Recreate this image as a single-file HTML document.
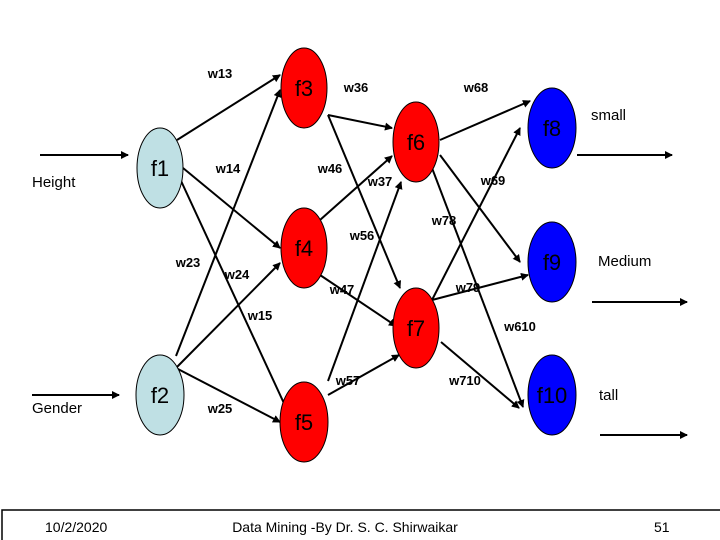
<!DOCTYPE html>
<html><head><meta charset="utf-8"><style>
html,body{margin:0;padding:0;background:#fff;}
svg{display:block;font-family:"Liberation Sans",sans-serif;}
.l{font-size:13px;font-weight:bold;}
.n{font-size:22px;}
</style></head><body>
<svg width="720" height="540" viewBox="0 0 720 540" xmlns="http://www.w3.org/2000/svg">
<defs><marker id="a" markerWidth="8" markerHeight="8" refX="7" refY="4" orient="auto" markerUnits="userSpaceOnUse"><path d="M0,0 L8,4 L0,8 z" fill="#000"/></marker></defs>
<g stroke="#000" stroke-width="2" marker-end="url(#a)" fill="none">
<line x1="40" y1="155" x2="128" y2="155"/>
<line x1="32" y1="395" x2="119" y2="395"/>
<line x1="577" y1="155" x2="672" y2="155"/>
<line x1="592" y1="302" x2="687" y2="302"/>
<line x1="600" y1="435" x2="687" y2="435"/>
<line x1="177" y1="140" x2="280" y2="75"/>
<line x1="183" y1="168" x2="280" y2="248"/>
<line x1="176" y1="170" x2="288" y2="412"/>
<line x1="176" y1="356" x2="280" y2="90"/>
<line x1="176" y1="368" x2="280" y2="263"/>
<line x1="176" y1="368" x2="280" y2="422"/>
<line x1="328" y1="115" x2="392" y2="128"/>
<line x1="328" y1="115" x2="400" y2="288"/>
<line x1="320" y1="220" x2="392" y2="156"/>
<line x1="320" y1="275" x2="396" y2="326"/>
<line x1="328" y1="381" x2="401" y2="182"/>
<line x1="328" y1="395" x2="399" y2="355"/>
<line x1="440" y1="140" x2="530" y2="101"/>
<line x1="440" y1="155" x2="520" y2="262"/>
<line x1="432" y1="168" x2="523" y2="407"/>
<line x1="432" y1="300" x2="520" y2="128"/>
<line x1="432" y1="300" x2="528" y2="275"/>
<line x1="441" y1="342" x2="519" y2="408"/>
</g>
<g stroke="#000" stroke-width="1">
<ellipse cx="160" cy="168" rx="23" ry="40" fill="#bfe0e4"/>
<ellipse cx="160" cy="395" rx="24" ry="40" fill="#bfe0e4"/>
<ellipse cx="304" cy="88" rx="23" ry="40" fill="#f00"/>
<ellipse cx="304" cy="248" rx="23" ry="40" fill="#f00"/>
<ellipse cx="304" cy="422" rx="24" ry="40" fill="#f00"/>
<ellipse cx="416" cy="142" rx="23" ry="40" fill="#f00"/>
<ellipse cx="416" cy="328" rx="23" ry="40" fill="#f00"/>
<ellipse cx="552" cy="128" rx="24" ry="40" fill="#00f"/>
<ellipse cx="552" cy="262" rx="24" ry="40" fill="#00f"/>
<ellipse cx="552" cy="395" rx="24" ry="40" fill="#00f"/>
</g>
<g class="n" text-anchor="middle">
<text x="160" y="176">f1</text><text x="160" y="403">f2</text>
<text x="304" y="96">f3</text><text x="304" y="256">f4</text><text x="304" y="430">f5</text>
<text x="416" y="150">f6</text><text x="416" y="336">f7</text>
<text x="552" y="136">f8</text><text x="552" y="270">f9</text><text x="552" y="403">f10</text>
</g>
<g class="l" text-anchor="middle">
<text x="220" y="78">w13</text><text x="356" y="92">w36</text><text x="476" y="92">w68</text>
<text x="228" y="173">w14</text><text x="330" y="173">w46</text><text x="380" y="186">w37</text>
<text x="493" y="185">w69</text><text x="188" y="267">w23</text><text x="237" y="279">w24</text>
<text x="362" y="240">w56</text><text x="444" y="225">w78</text><text x="342" y="294">w47</text>
<text x="468" y="292">w79</text><text x="260" y="320">w15</text><text x="520" y="331">w610</text>
<text x="348" y="385">w57</text><text x="465" y="385">w710</text><text x="220" y="413">w25</text>
</g>
<g font-size="15">
<text x="32" y="187">Height</text><text x="32" y="413">Gender</text>
<text x="591" y="120">small</text><text x="598" y="266">Medium</text><text x="599" y="400">tall</text>
</g>
<path d="M2,540 L2,510 L720,510" stroke="#000" stroke-width="1.5" fill="none"/>
<g font-size="14">
<text x="45" y="532">10/2/2020</text>
<text x="345" y="532" text-anchor="middle">Data Mining -By Dr. S. C. Shirwaikar</text>
<text x="654" y="532">51</text>
</g>
</svg>
</body></html>
